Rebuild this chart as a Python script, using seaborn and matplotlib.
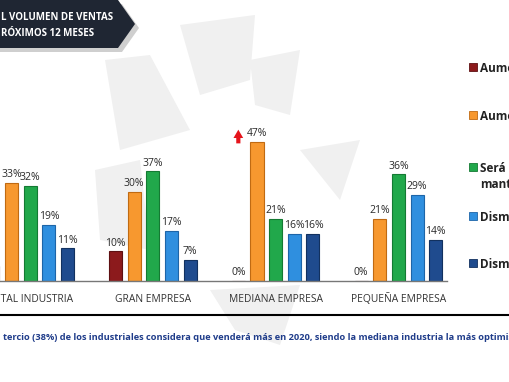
import matplotlib
matplotlib.use("Agg")
import matplotlib.pyplot as plt
import seaborn as sns
import pandas as pd
from matplotlib.patches import Polygon, Rectangle
from matplotlib.lines import Line2D

# data
categories = ["TOTAL INDUSTRIA", "GRAN EMPRESA", "MEDIANA EMPRESA", "PEQUEÑA EMPRESA"]
series = ["Aumentará significativamente", "Aumentará", "Será igual / se\nmantendrá",
          "Disminuirá", "Disminuirá significativamente"]
aum_sig = [5, 10, 0, 0]
aum = [33, 30, 47, 21]
igual = [32, 37, 21, 36]
dism = [19, 17, 16, 29]
dism_sig = [11, 7, 16, 14]

colors = ["#8c1a1c", "#f7982f", "#21a84b", "#2f8fdf", "#1f4b8e"]
edges = ["#5e1012", "#c06a12", "#147a33", "#1d65a8", "#12315f"]

W, H = 510, 382


def px(x, y):
    return (x / W, 1 - y / H)


df = pd.DataFrame({
    "grupo": categories * 5,
    "serie": [s for s in series for _ in categories],
    "valor": aum_sig + aum + igual + dism + dism_sig,
})

sns.set_style("white")
plt.rcParams['font.family'] = ['Open Sans', 'DejaVu Sans']

fig = plt.figure(figsize=(5.1, 3.82), dpi=100)
fig.patch.set_facecolor("white")

# faint watermark logo behind the chart
wm = "#f0f0f0"
for pts in [
    [(105, 60), (150, 55), (190, 130), (120, 150)],
    [(180, 25), (255, 15), (250, 80), (200, 95)],
    [(250, 60), (300, 50), (290, 115), (255, 105)],
    [(95, 170), (140, 160), (150, 250), (100, 240)],
    [(300, 150), (360, 140), (340, 200)],
    [(210, 290), (300, 285), (280, 345), (235, 330)],
]:
    fig.add_artist(Polygon([px(*p) for p in pts], closed=True, facecolor=wm,
                           edgecolor="none", transform=fig.transFigure, zorder=0))

ax = fig.add_axes([-43.5 / W, 101 / H, 491 / W, 163 / H])
ax.patch.set_alpha(0)
sns.barplot(data=df, x="grupo", y="valor", hue="serie", hue_order=series,
            order=categories, palette=colors, saturation=1, width=0.76, gap=0.3,
            legend=False, ax=ax)

for cont, ec in zip(ax.containers, edges):
    for bar in cont:
        bar.set_edgecolor(ec)
        bar.set_linewidth(0.8)
    ax.bar_label(cont, labels=[f"{b.get_height():.0f}%" for b in cont],
                 padding=2, fontsize=7.5, color="#2a2a2a")

# red arrow next to the 47% bar
xr = ax.containers[0][2].get_x() + ax.containers[0][2].get_width() / 2
ax.annotate("", xy=(xr, 52), xytext=(xr, 45.5),
            arrowprops=dict(arrowstyle="simple,head_width=0.7,head_length=0.6,tail_width=0.3",
                            color="#e5141b", lw=0))

ax.set_xlim(-0.6, 3.4)
ax.set_ylim(0, 55)
ax.set(xlabel="", ylabel="", yticks=[])
sns.despine(ax=ax, left=True)
ax.spines["bottom"].set_color("#777777")
ax.spines["bottom"].set_linewidth(1)
ax.tick_params(axis="x", length=0, pad=9, labelsize=7.4, labelcolor="#333333")

# legend drawn by hand at the right edge
leg_y = [67, 115, 167, 216, 263]
for name, c, ec, y in zip(series, colors, edges, leg_y):
    fig.add_artist(Rectangle(px(469, y + 4), 8 / W, 8 / H, transform=fig.transFigure,
                             facecolor=c, edgecolor=ec, lw=0.6))
    fig.text(*px(480, y - 5), name, fontsize=8.5, fontweight="bold", color="#222222",
             va="top", ha="left", linespacing=1.3)

# header banner
fig.add_artist(Polygon([px(*p) for p in [(0, 4), (122, 4), (139, 28), (122, 52), (0, 52)]],
                       closed=True, facecolor="#c4c4c4", edgecolor="none",
                       transform=fig.transFigure, alpha=0.8))
fig.add_artist(Polygon([px(*p) for p in [(0, 0), (118, 0), (135, 24), (118, 48), (0, 48)]],
                       closed=True, facecolor="#1f2633", edgecolor="none",
                       transform=fig.transFigure))
fig.text(*px(1, 18), "L VOLUMEN DE VENTAS", fontsize=7, fontweight="bold",
         color="white", va="center")
fig.text(*px(1, 33), "RÓXIMOS 12 MESES", fontsize=7, fontweight="bold",
         color="white", va="center")

# bottom rule and note
fig.add_artist(Line2D([0, 1], [px(0, 315)[1]] * 2, color="black", lw=1.5,
                      transform=fig.transFigure))
fig.text(*px(3, 337), "tercio (38%) de los industriales considera que venderá más en 2020, "
         "siendo la mediana industria la más optimista",
         fontsize=6.65, fontweight="bold", color="#1f3c8a", va="center")

fig.savefig("out.png", dpi=100)
